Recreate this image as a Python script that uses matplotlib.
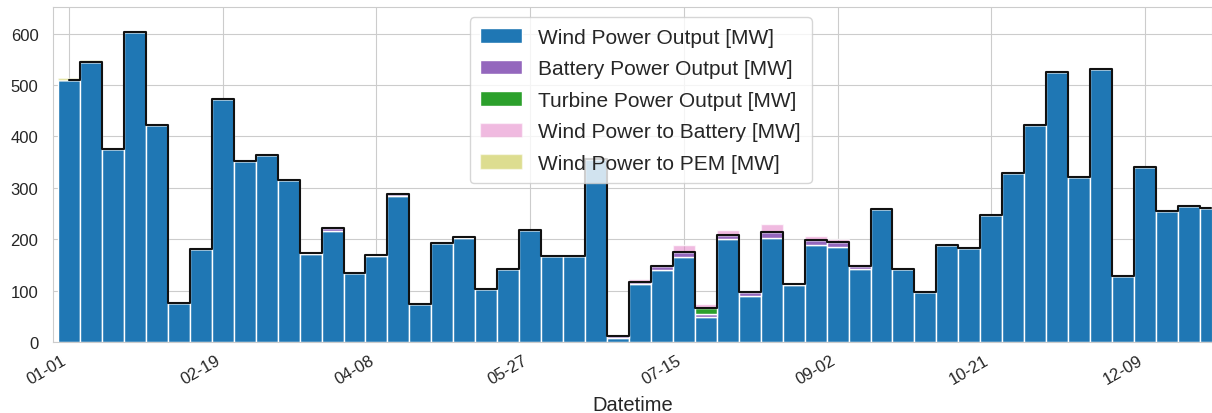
import numpy as np
import pandas as pd
import matplotlib
matplotlib.use("Agg")
import matplotlib.pyplot as plt
import seaborn as sns

sns.set_style("whitegrid")
plt.rcParams['font.family'] = ['Liberation Sans', 'DejaVu Sans']

# weekly averages, 2020
dates = pd.date_range("2020-01-01", periods=53, freq="7D")

wind_out = [510, 545, 376, 604, 423, 75, 181, 473, 352, 364,
            315, 171, 217, 134, 168, 285, 73, 192, 202, 104,
            142, 218, 168, 168, 356, 7, 112, 141, 165, 48,
            200, 90, 203, 110, 189, 184, 142, 259, 142, 98,
            189, 183, 248, 329, 423, 526, 321, 532, 128, 341,
            254, 265, 260]
battery_out = [0, 0, 0, 0, 0, 0, 0, 0, 0, 0,
               0, 2, 5, 0, 2, 3, 0, 0, 3, 0,
               0, 0, 0, 0, 0, 5, 5, 6, 11, 7,
               8, 7, 11, 2, 10, 10, 6, 0, 0, 0,
               0, 0, 0, 0, 0, 0, 0, 0, 0, 0,
               0, 0, 0]
turbine_out = [0, 0, 0, 0, 0, 0, 0, 0, 0, 0,
               0, 0, 0, 0, 0, 0, 0, 0, 0, 0,
               0, 0, 0, 0, 0, 0, 0, 0, 0, 12,
               0, 0, 0, 0, 0, 0, 0, 0, 0, 0,
               0, 0, 0, 0, 0, 0, 0, 0, 0, 0,
               0, 0, 0]
wind_to_battery = [0, 0, 0, 0, 0, 0, 0, 0, 0, 0,
                   0, 0, 1, 0, 0, 0, 0, 0, 0, 0,
                   0, 0, 0, 0, 0, 1, 5, 2, 12, 7,
                   10, 1, 16, 0, 8, 6, 3, 0, 0, 0,
                   0, 0, 0, 0, 0, 0, 0, 0, 0, 0,
                   0, 0, 0]
wind_to_pem = [4, 4, 0, 0, 0, 0, 0, 0, 0, 0,
               0, 0, 0, 0, 0, 0, 0, 0, 0, 0,
               0, 0, 0, 0, 0, 0, 0, 0, 0, 0,
               0, 0, 0, 0, 0, 0, 0, 0, 0, 0,
               0, 0, 0, 0, 0, 0, 0, 0, 0, 0,
               0, 0, 0]

x = np.arange(len(dates))
wind_out = np.array(wind_out)
battery_out = np.array(battery_out)
turbine_out = np.array(turbine_out)
wind_to_battery = np.array(wind_to_battery)
wind_to_pem = np.array(wind_to_pem)

# power delivered to the grid
delivered = wind_out + battery_out + turbine_out

fig = plt.figure(figsize=(12.12, 4.14), dpi=100)
ax = fig.add_axes([53 / 1212, 1 - 343 / 414, (1212 - 53) / 1212, (343 - 8) / 414])

bar_kw = dict(width=1.0, edgecolor='white', linewidth=1.0)
bottom = np.zeros(len(x))
ax.bar(x, wind_out, bottom=bottom, color='tab:blue', label='Wind Power Output [MW]', **bar_kw)
bottom = bottom + wind_out
ax.bar(x, battery_out, bottom=bottom, color='tab:purple', label='Battery Power Output [MW]', **bar_kw)
bottom = bottom + battery_out
ax.bar(x, turbine_out, bottom=bottom, color='tab:green', label='Turbine Power Output [MW]', **bar_kw)
bottom = bottom + turbine_out
ax.bar(x, wind_to_battery, bottom=bottom, color='tab:pink', alpha=0.5,
       label='Wind Power to Battery [MW]', **bar_kw)
bottom = bottom + wind_to_battery
ax.bar(x, wind_to_pem, bottom=bottom, color='tab:olive', alpha=0.5,
       label='Wind Power to PEM [MW]', **bar_kw)

ax.plot(x, delivered, drawstyle='steps-mid', color='#111111', linewidth=1.5, zorder=5)

ax.set_xlim(-0.73, 52.05)
ax.set_ylim(0, 652)
ax.set_yticks(np.arange(0, 700, 100))
ax.set_xticks(x[::7])
ax.set_xticklabels(dates[::7].strftime('%m-%d'), rotation=30, ha='right')
ax.tick_params(axis='both', labelsize=12, colors='#262626')
ax.tick_params(axis='y', pad=7)
ax.tick_params(axis='x', pad=4)
ax.set_xlabel('Datetime', fontsize=14.5, labelpad=6)

ax.legend(loc='upper center', fontsize=15, bbox_to_anchor=(0.507, 1.0),
          labelspacing=0.6, borderpad=0.5)

fig.savefig('out.png', dpi=100)
